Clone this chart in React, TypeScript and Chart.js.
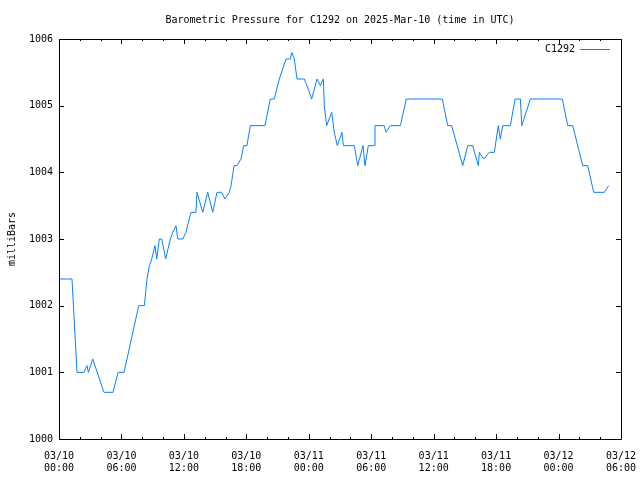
import React, { useEffect, useRef } from "react";
import { Chart, registerables } from "chart.js";

Chart.register(...registerables);

const TITLE = "Barometric Pressure for C1292 on 2025-Mar-10 (time in UTC)";
const SERIES_NAME = "C1292";
const Y_LABEL = "milliBars";

// hours since 03/10 00:00 UTC
const hours = [
  0, 1.25, 1.73, 2.4, 2.69, 2.82, 3.24, 4.32, 5.19, 5.67, 6.25, 7.66, 8.2,
  8.46, 8.68, 8.91, 9.22, 9.39, 9.64, 9.87, 10.25, 10.7, 10.93, 11.24, 11.41,
  11.89, 12.2, 12.52, 12.68, 13.16, 13.26, 13.81, 14.29, 14.77, 15.18, 15.63,
  15.95, 16.36, 16.53, 16.82, 17.1, 17.49, 17.75, 18.06, 18.38, 19.79, 20.3,
  20.69, 21.17, 21.82, 22.23, 22.36, 22.61, 22.87, 23.57, 23.83, 24.28, 24.79,
  25.11, 25.4, 25.49, 25.72, 26.2, 26.45, 26.74, 27.19, 27.32, 28.38, 28.7,
  29.21, 29.4, 29.72, 30.3, 30.36, 31.26, 31.42, 31.83, 32.8, 33.37, 36.83,
  37.35, 37.73, 38.79, 39.27, 39.75, 40.29, 40.39, 40.81, 41.35, 41.83, 42.21,
  42.4, 42.64, 43.37, 43.82, 44.33, 44.47, 45.29, 48.36, 48.88, 49.36, 50.32,
  50.8, 51.38, 52.4, 52.82,
];

const pressure = [
  1002.4, 1002.4, 1001.0, 1001.0, 1001.1, 1001.0, 1001.2, 1000.7, 1000.7,
  1001.0, 1001.0, 1002.0, 1002.0, 1002.4, 1002.6, 1002.7, 1002.9, 1002.7,
  1003.0, 1003.0, 1002.7, 1003.0, 1003.1, 1003.2, 1003.0, 1003.0, 1003.1,
  1003.3, 1003.4, 1003.4, 1003.7, 1003.4, 1003.7, 1003.4, 1003.7, 1003.7,
  1003.6, 1003.7, 1003.8, 1004.1, 1004.1, 1004.2, 1004.4, 1004.4, 1004.7,
  1004.7, 1005.1, 1005.1, 1005.4, 1005.7, 1005.7, 1005.8, 1005.7, 1005.4,
  1005.4, 1005.3, 1005.1, 1005.4, 1005.3, 1005.4, 1005.0, 1004.7, 1004.9,
  1004.6, 1004.4, 1004.6, 1004.4, 1004.4, 1004.1, 1004.4, 1004.1, 1004.4,
  1004.4, 1004.7, 1004.7, 1004.6, 1004.7, 1004.7, 1005.1, 1005.1, 1004.7,
  1004.7, 1004.1, 1004.4, 1004.4, 1004.1, 1004.3, 1004.2, 1004.3, 1004.3,
  1004.7, 1004.5, 1004.7, 1004.7, 1005.1, 1005.1, 1004.7, 1005.1, 1005.1,
  1004.7, 1004.7, 1004.1, 1004.1, 1003.7, 1003.7, 1003.8,
];

const xTickLabels = [
  ["03/10", "00:00"],
  ["03/10", "06:00"],
  ["03/10", "12:00"],
  ["03/10", "18:00"],
  ["03/11", "00:00"],
  ["03/11", "06:00"],
  ["03/11", "12:00"],
  ["03/11", "18:00"],
  ["03/12", "00:00"],
  ["03/12", "06:00"],
];

const X_MIN = 0;
const X_MAX = 54;
const X_MAJOR = 6;
const X_MINOR = 2;
const Y_MIN = 1000;
const Y_MAX = 1006;

const FONT = "'DejaVu Sans Mono', monospace";
const LINE_COLOR = "#0a80ff";

const framePlugin = {
  id: "gnuplotFrame",
  afterDatasetsDraw(chart: any) {
    const { ctx, chartArea, scales } = chart;
    const { left, right, top, bottom } = chartArea;
    ctx.save();
    ctx.strokeStyle = "#000";
    ctx.lineWidth = 1;
    ctx.beginPath();
    ctx.rect(Math.round(left) + 0.5, Math.round(top) + 0.5, Math.round(right - left), Math.round(bottom - top));
    ctx.stroke();
    ctx.beginPath();
    for (let h = X_MIN; h <= X_MAX; h += X_MINOR) {
      const x = Math.round(scales.x.getPixelForValue(h)) + 0.5;
      const len = h % X_MAJOR === 0 ? 5 : 2;
      ctx.moveTo(x, bottom);
      ctx.lineTo(x, bottom - len);
      ctx.moveTo(x, top);
      ctx.lineTo(x, top + len);
    }
    for (let v = Y_MIN; v <= Y_MAX; v += 1) {
      const y = Math.round(scales.y.getPixelForValue(v)) + 0.5;
      ctx.moveTo(left, y);
      ctx.lineTo(left + 5, y);
      ctx.moveTo(right, y);
      ctx.lineTo(right - 5, y);
    }
    ctx.stroke();

    // legend (gnuplot style: text, then line sample)
    const ly = top + 10;
    ctx.font = `10px ${FONT}`;
    ctx.fillStyle = "#000";
    ctx.textAlign = "right";
    ctx.textBaseline = "middle";
    ctx.fillText(chart.data.datasets[0].label, right - 46, ly);
    ctx.strokeStyle = LINE_COLOR;
    ctx.beginPath();
    ctx.moveTo(right - 41, ly + 0.5);
    ctx.lineTo(right - 11, ly + 0.5);
    ctx.stroke();
    ctx.restore();
  },
};

export default function App() {
  const ref = useRef<HTMLCanvasElement | null>(null);

  useEffect(() => {
    document.body.style.margin = "0";
    const canvas = ref.current;
    if (!canvas) return;
    const points = hours.map((h, i) => ({ x: h, y: pressure[i] }));
    const chart = new Chart(canvas, {
      type: "line",
      data: {
        datasets: [
          {
            label: SERIES_NAME,
            data: points,
            borderColor: LINE_COLOR,
            borderWidth: 1,
            pointRadius: 0,
            tension: 0,
            fill: false,
          },
        ],
      },
      plugins: [framePlugin],
      options: {
        animation: false,
        responsive: false,
        devicePixelRatio: 1,
        layout: { padding: { left: 0, right: 19, top: 0, bottom: 0 } },
        plugins: {
          legend: { display: false },
          tooltip: { enabled: false },
          title: {
            display: true,
            text: TITLE,
            fullSize: false,
            color: "#000",
            font: { family: FONT, size: 10, weight: "normal" },
            padding: { top: 14, bottom: 13 },
          },
        },
        scales: {
          x: {
            type: "linear",
            min: X_MIN,
            max: X_MAX,
            grid: { display: false, drawTicks: false },
            border: { display: false },
            afterFit: (s: any) => {
              s.height = 41;
              s.paddingLeft = 0;
              s.paddingRight = 0;
            },
            afterBuildTicks: (s: any) => {
              const t = [];
              for (let h = X_MIN; h <= X_MAX; h += X_MAJOR) t.push({ value: h });
              s.ticks = t;
            },
            ticks: {
              color: "#000",
              font: { family: FONT, size: 10 },
              padding: 11,
              maxRotation: 0,
              autoSkip: false,
              callback: (v: any) => xTickLabels[Math.round(Number(v) / X_MAJOR)],
            },
          },
          y: {
            type: "linear",
            min: Y_MIN,
            max: Y_MAX,
            grid: { display: false, drawTicks: false },
            border: { display: false },
            afterFit: (s: any) => {
              s.width = 59;
            },
            title: {
              display: true,
              text: Y_LABEL,
              color: "#000",
              font: { family: FONT, size: 10 },
              padding: { top: 6, bottom: 0 },
            },
            ticks: {
              color: "#000",
              font: { family: FONT, size: 10 },
              padding: 6,
              stepSize: 1,
              callback: (v: any) => String(v),
            },
          },
        },
      },
    });
    return () => chart.destroy();
  }, []);

  return (
    <div style={{ position: "absolute", left: 0, top: 0, width: 640, height: 480, background: "#fff" }}>
      <canvas ref={ref} width={640} height={480} />
    </div>
  );
}
